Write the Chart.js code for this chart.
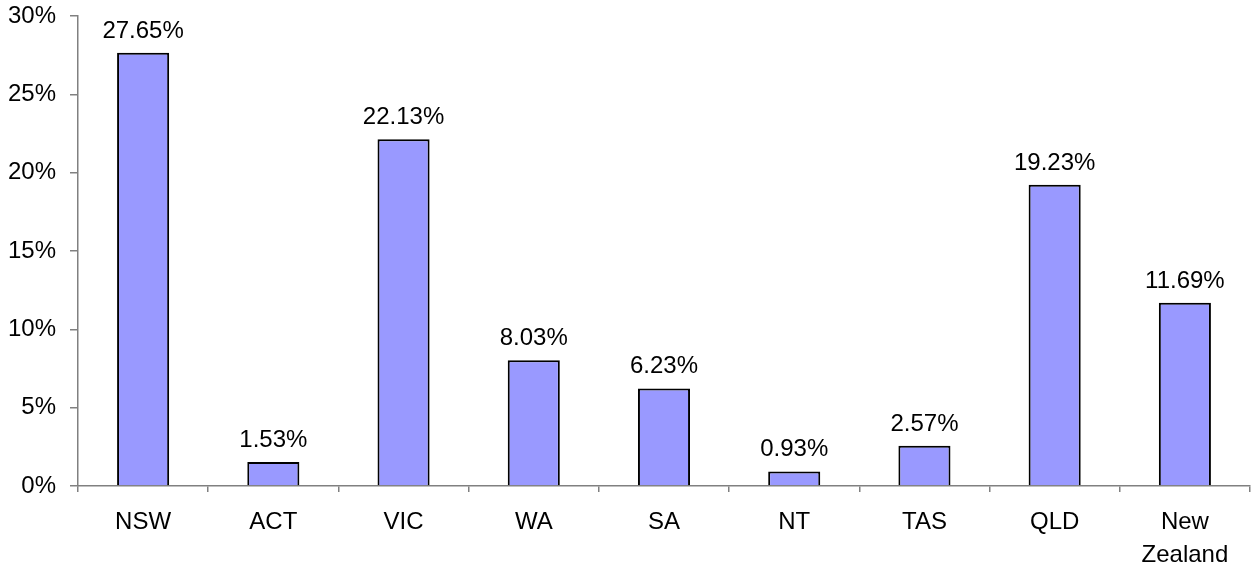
<!DOCTYPE html>
<html>
<head>
<meta charset="utf-8">
<script src="https://cdn.jsdelivr.net/npm/chart.js@4/dist/chart.umd.min.js"></script>
<style>
  html, body { margin: 0; padding: 0; background: #fff; }
  #wrap { width: 1252px; height: 568px; }
</style>
</head>
<body>
<div id="wrap"><canvas id="myChart" width="1252" height="568"></canvas></div>
<script>
// categories and values
var regions = ['NSW', 'ACT', 'VIC', 'WA', 'SA', 'NT', 'TAS', 'QLD', ['New', 'Zealand']];
var shares = [27.65, 1.53, 22.13, 8.03, 6.23, 0.93, 2.57, 19.23, 11.69];
var yTicks = [0, 5, 10, 15, 20, 25, 30];

var FONT = 'Liberation Sans, Arial, sans-serif';

// percentage labels above each bar
var valueLabels = {
    id: 'valueLabels',
    afterDatasetsDraw: function (chart) {
        var ctx = chart.ctx;
        var meta = chart.getDatasetMeta(0);
        ctx.save();
        ctx.font = '24px ' + FONT;
        ctx.fillStyle = '#000';
        ctx.textAlign = 'center';
        ctx.textBaseline = 'alphabetic';
        meta.data.forEach(function (bar, i) {
            ctx.fillText(shares[i].toFixed(2) + '%', bar.x, bar.y - 15);
        });
        ctx.restore();
    }
};

var ctx = document.getElementById('myChart').getContext('2d');
var chart = new Chart(ctx, {
    type: 'bar',
    data: {
        labels: regions,
        datasets: [{
            data: shares,
            backgroundColor: '#9999FF',
            borderColor: '#000',
            borderWidth: 2,
            categoryPercentage: 1,
            barPercentage: 0.4
        }]
    },
    plugins: [valueLabels],
    options: {
        responsive: false,
        animation: false,
        layout: { padding: { top: 0, right: 2, left: 0, bottom: 0 } },
        plugins: {
            legend: { display: false },
            tooltip: { enabled: false }
        },
        scales: {
            x: {
                offset: true,
                grid: {
                    offset: true,
                    drawOnChartArea: false,
                    tickLength: 6,
                    color: '#808080',
                    lineWidth: 1.5
                },
                border: { color: '#808080', width: 1.5 },
                ticks: {
                    color: '#000',
                    font: { family: FONT, size: 24, lineHeight: 1.375 },
                    padding: 14,
                    maxRotation: 0,
                    autoSkip: false
                },
                afterFit: function (scale) { scale.height = 82; }
            },
            y: {
                min: 0,
                max: 30,
                afterBuildTicks: function (scale) {
                    scale.ticks = yTicks.map(function (v) { return { value: v }; });
                },
                grid: {
                    drawOnChartArea: false,
                    tickLength: 8,
                    color: '#808080',
                    lineWidth: 1.5
                },
                border: { color: '#808080', width: 1.5 },
                ticks: {
                    color: '#000',
                    font: { family: FONT, size: 24, lineHeight: 0.17 },
                    padding: 14,
                    callback: function (v) { return v + '%'; }
                },
                afterFit: function (scale) { scale.width = 78; }
            }
        }
    }
});
</script>
</body>
</html>
